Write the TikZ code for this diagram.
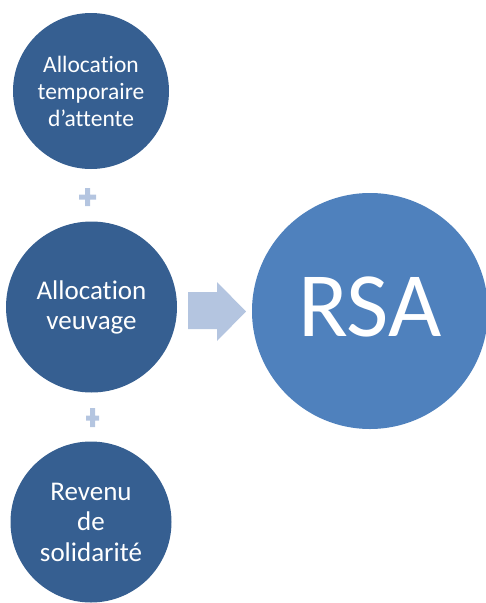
\documentclass[tikz,border=0pt]{standalone}
\usepackage{fontspec}
\setmainfont{Carlito}[Ligatures={TeX,NoCommon}]
\usepackage{xcolor}
\definecolor{darkblue}{RGB}{54,95,145}
\definecolor{midblue}{RGB}{79,129,189}
\definecolor{paleblue}{RGB}{180,197,224}
\tikzset{
  disc/.style={circle, inner sep=0pt, text=white},
  bubble/.style={disc, fill=darkblue, align=center},
}

\begin{document}
\begin{tikzpicture}[x=1pt,y=-1pt]
\useasboundingbox (0,0) rectangle (486,603);
\node[bubble, minimum size=156pt, font=\fontsize{23.5}{27}\selectfont] (ata) at (91,91) {Allocation\\temporaire\\d’attente};
\node[bubble, minimum size=171pt, font=\fontsize{27}{30}\selectfont] (av) at (91.5,307) {Allocation\\veuvage};
\node[bubble, minimum size=161pt, font=\fontsize{27}{30.5}\selectfont] (rs) at (91,522) {Revenu\\de\\solidarité};
\node[disc, fill=midblue, minimum size=236pt, text depth=8pt, font=\fontsize{92}{92}\selectfont] (rsa) at (370,311) {RSA};

% plus signs
\fill[paleblue] (79,194.5) rectangle (96,199.5) (85,188) rectangle (90,206);
\fill[paleblue] (86,415.5) rectangle (99,420.5) (90,408) rectangle (95,427);

% block arrow
\fill[paleblue] (188,292) -- (217,292) -- (217,282) -- (246,311.5) -- (217,341) -- (217,329) -- (188,329) -- cycle;
\end{tikzpicture}
\end{document}
